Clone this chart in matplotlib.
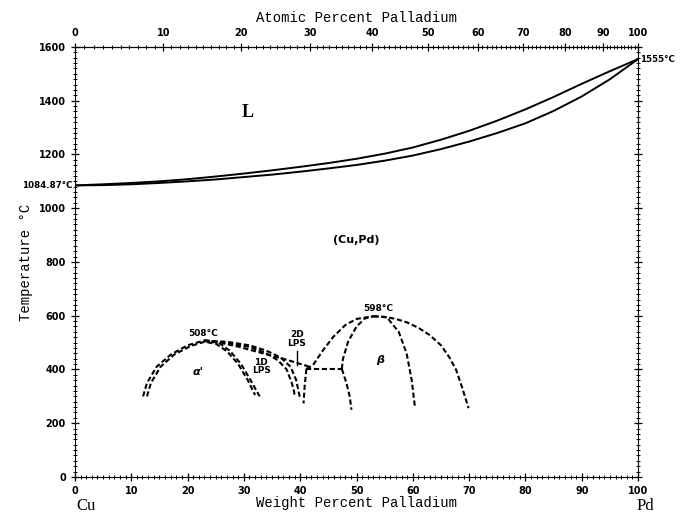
import numpy as np
import matplotlib.pyplot as plt
from matplotlib.ticker import MultipleLocator

wt_liq = [0, 5, 10, 15, 20, 25, 30, 35, 40, 45, 50, 55, 60, 65, 70, 75, 80, 85, 90, 95, 100]
T_liq = [1084.87, 1089, 1094, 1100, 1108, 1118, 1129, 1141, 1154, 1168, 1184, 1203,
         1226, 1255, 1288, 1326, 1368, 1414, 1463, 1510, 1555]
wt_sol = [0, 5, 10, 15, 20, 25, 30, 35, 40, 45, 50, 55, 60, 65, 70, 75, 80, 85, 90, 95, 100]
T_sol = [1084.87, 1086, 1089, 1094, 1100, 1107, 1116, 1125, 1136, 1148, 1161, 1177,
         1196, 1220, 1248, 1280, 1316, 1362, 1416, 1480, 1555]

# Límites de fase en estado sólido (líneas discontinuas)
dome1_w = [12.1, 12.8, 14.5, 17, 20, 23, 25.5, 27.5, 29.5, 31.2, 32.8]
dome1_T = [300, 350, 410, 455, 490, 508, 500, 470, 420, 360, 300]
dome2_w = [12.8, 13.5, 15.2, 17.6, 20.5, 23, 25, 27, 29, 30.7, 32.0]
dome2_T = [300, 350, 410, 455, 487, 503, 496, 468, 420, 360, 305]
long1_w = [23, 27, 31, 34, 36.5, 38.3, 39.3, 39.8, 40.0]
long1_T = [508, 503, 490, 470, 445, 410, 360, 310, 290]
long2_w = [23, 27, 31, 33.8, 36, 37.6, 38.5, 38.9, 39.0]
long2_T = [505, 498, 484, 462, 435, 400, 350, 320, 305]
upper_w = [23, 25, 29, 33.4, 37, 41.7]
upper_T = [508, 503, 485, 460, 440, 410]
vert_w = [41.1, 40.8, 40.6]
vert_T = [402, 340, 274]
horiz_w = [41.1, 47.4]
horiz_T = [402, 402]
down_w = [47.4, 48.2, 48.8, 49.1]
down_T = [402, 350, 300, 250]
betain_w = [47.4, 47.6, 48.5, 50, 51.5, 53]
betain_T = [402, 440, 503, 560, 590, 598]
betaout_w = [41.1, 42.3, 44, 45.9, 48, 50, 53]
betaout_T = [402, 417, 470, 522, 565, 588, 598]
right1_w = [53, 55.4, 57.5, 58.9, 59.8, 60.4]
right1_T = [598, 594, 540, 460, 360, 256]
right2_w = [53, 55, 57, 59, 61, 63, 65, 66.5, 67.7, 68.8, 69.9]
right2_T = [598, 596, 588, 575, 555, 528, 490, 445, 398, 330, 256]

M_CU = 63.546
M_PD = 106.42


def wt2at(w):
    w = np.asarray(w, dtype=float)
    a = w / M_PD
    b = (100 - w) / M_CU
    return 100 * a / (a + b)


def at2wt(x):
    x = np.asarray(x, dtype=float)
    a = x * M_PD
    b = (100 - x) * M_CU
    return 100 * a / (a + b)


fig = plt.figure(figsize=(6.81, 5.15), dpi=100)
ax = fig.add_axes([0.110, 0.0738, 0.827, 0.835])

ax.plot(wt_liq, T_liq, color='black', lw=1.4)
ax.plot(wt_sol, T_sol, color='black', lw=1.4)

dash = dict(color='black', lw=1.5, linestyle=(0, (2.5, 1.3)))
for xs, ys in [(dome1_w, dome1_T), (dome2_w, dome2_T), (long1_w, long1_T),
               (long2_w, long2_T), (upper_w, upper_T), (vert_w, vert_T),
               (horiz_w, horiz_T), (down_w, down_T), (betain_w, betain_T),
               (betaout_w, betaout_T), (right1_w, right1_T), (right2_w, right2_T)]:
    ax.plot(xs, ys, **dash)

# marca del 2D LPS
ax.plot([39.5, 39.5], [470, 415], color='black', lw=1.0)

ax.set_xlim(0, 100)
ax.set_ylim(0, 1600)
ax.xaxis.set_major_locator(MultipleLocator(10))
ax.xaxis.set_minor_locator(MultipleLocator(1))
ax.yaxis.set_major_locator(MultipleLocator(200))
ax.yaxis.set_minor_locator(MultipleLocator(20))
ax.tick_params(which='major', direction='inout', length=6, width=0.9,
               labelsize=7, right=True)
ax.tick_params(which='minor', direction='inout', length=3, width=0.7, right=True)
for lab in ax.get_xticklabels() + ax.get_yticklabels():
    lab.set_fontweight('bold')

top = ax.secondary_xaxis('top', functions=(wt2at, at2wt))
top.xaxis.set_major_locator(MultipleLocator(10))
top.xaxis.set_minor_locator(MultipleLocator(1))
top.tick_params(which='major', direction='inout', length=6, width=0.9, labelsize=7)
top.tick_params(which='minor', direction='inout', length=3, width=0.7)
for lab in top.get_xticklabels():
    lab.set_fontweight('bold')

mono = 'Liberation Mono'
top.set_xlabel('Atomic Percent Palladium', fontsize=10, family=mono, labelpad=4)
ax.set_xlabel('Weight Percent Palladium', fontsize=10, family=mono, labelpad=0)
ax.set_ylabel('Temperature °C', fontsize=10, family=mono, labelpad=4)

ax.text(-0.4, 1084.87, '1084.87°C', ha='right', va='center', fontsize=6.3,
        fontweight='bold', clip_on=False)
ax.text(100.4, 1555, '1555°C', ha='left', va='center', fontsize=6.3,
        fontweight='bold', clip_on=False)
ax.text(0.2, -108, 'Cu', fontsize=12, family='Liberation Serif', va='center')
ax.text(99.8, -108, 'Pd', fontsize=12, family='Liberation Serif', va='center')

ax.text(30.7, 1358, 'L', fontsize=13, family='Liberation Serif', fontweight='bold',
        ha='center', va='center')
ax.text(50, 882, '(Cu,Pd)', fontsize=8, fontweight='bold', ha='center', va='center')
ax.text(22.8, 534, '508°C', fontsize=6.5, fontweight='bold', ha='center', va='center')
ax.text(53.9, 628, '598°C', fontsize=6.5, fontweight='bold', ha='center', va='center')
ax.text(21.9, 392, "α'", fontsize=8, fontweight='bold', ha='center', va='center',
        style='italic')
ax.text(54.2, 435, 'β', fontsize=8, fontweight='bold', ha='center', va='center',
        style='italic')
ax.text(33.1, 410, '1D\nLPS', fontsize=6.5, fontweight='bold', ha='center',
        va='center', linespacing=0.9)
ax.text(39.4, 513, '2D\nLPS', fontsize=6.5, fontweight='bold', ha='center',
        va='center', linespacing=0.9)

fig.savefig('out.png', dpi=100)
